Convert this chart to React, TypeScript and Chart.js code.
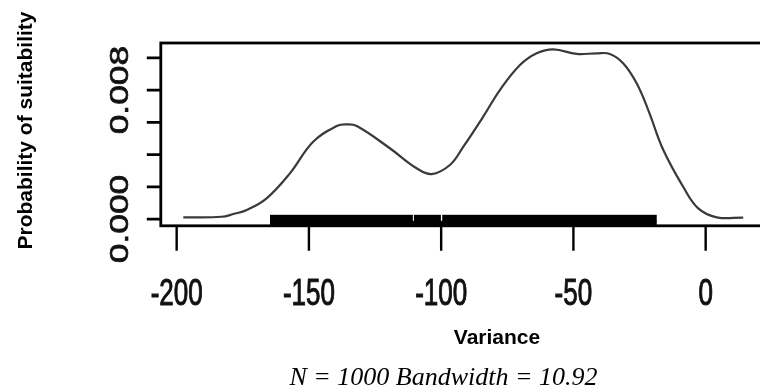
import React, { useEffect, useRef } from "react";
import { Chart, registerables } from "chart.js";

Chart.register(...registerables);

// Kernel density estimate of the variance (N = 1000, bw = 10.92)
const densityX = [
  -197.5, -183.0, -178.6, -173.5, -166.0, -157.2, -148.4, -139.5, -135.7, -131.9,
  -119.4, -109.3, -103.6, -96.7, -91.6, -84.1, -77.8, -70.2, -63.9, -57.6,
  -48.8, -41.2, -36.2, -31.2, -26.1, -21.7, -16.0, -8.5, -2.8, 4.2, 14.2,
];
const densityY = [
  0.000105, 0.00014, 0.00031, 0.00056, 0.00128, 0.00283, 0.0048, 0.00577, 0.00587, 0.00577,
  0.00439, 0.00315, 0.00279, 0.00335, 0.00449, 0.00635, 0.008, 0.00955, 0.01028, 0.01053,
  0.01024, 0.01028, 0.01024, 0.00966, 0.00842, 0.00676, 0.00428, 0.002, 0.00066, 0.000105, 0.00009,
];

// Axis ticks and labels
const xTickValues = [-200, -150, -100, -50, 0];
const xTickLabels = ["-200", "-150", "-100", "-50", "0"];
const yTickValues = [0, 0.002, 0.004, 0.006, 0.008, 0.01];
const yLabelValues = [0, 0.008];
const yLabelTexts = ["0.000", "0.008"];

// Rug of observations (runs of densely packed ticks)
const rugStart = [-164.7, -110.3, -99.6];
const rugEnd = [-110.7, -100.1, -18.5];

const xTitle = "Variance";
const yTitle = "Probability of suitability";
const subTitle = "N = 1000 Bandwidth = 10.92";

function heavyText(ctx: CanvasRenderingContext2D, text: string) {
  ctx.fillText(text, 0, 0);
  ctx.strokeText(text, 0, 0);
}

const framePlugin = {
  id: "rDensityFrame",
  afterDraw(chart: any) {
    const { ctx, chartArea: a, scales } = chart;
    const xs = scales.x;
    const ys = scales.y;
    ctx.save();

    // rug along the bottom edge
    ctx.fillStyle = "#000";
    const base = a.bottom;
    for (let i = 0; i < rugStart.length; i++) {
      const x0 = xs.getPixelForValue(rugStart[i]);
      const x1 = xs.getPixelForValue(rugEnd[i]);
      ctx.fillRect(x0, base - 11, x1 - x0, 7);
    }
    {
      const x0 = xs.getPixelForValue(rugStart[0]);
      const x1 = xs.getPixelForValue(rugEnd[rugEnd.length - 1]);
      ctx.fillRect(x0, base - 5, x1 - x0, 6);
    }

    // plot box
    ctx.strokeStyle = "#000";
    ctx.lineWidth = 2.8;
    ctx.strokeRect(a.left, a.top, a.right - a.left, a.bottom - a.top);

    // y ticks
    ctx.lineWidth = 2.8;
    ctx.beginPath();
    for (const v of yTickValues) {
      const py = ys.getPixelForValue(v);
      ctx.moveTo(a.left - 14, py);
      ctx.lineTo(a.left, py);
    }
    ctx.stroke();

    // x ticks
    ctx.lineWidth = 2.4;
    ctx.beginPath();
    for (const v of xTickValues) {
      const px = xs.getPixelForValue(v);
      ctx.moveTo(px, a.bottom);
      ctx.lineTo(px, a.bottom + 25);
    }
    ctx.stroke();

    // x tick labels (tall, narrow lettering)
    ctx.fillStyle = "#111";
    ctx.strokeStyle = "#111";
    ctx.lineWidth = 0.7;
    ctx.font = "26px 'Liberation Sans', Arial, sans-serif";
    ctx.textAlign = "center";
    ctx.textBaseline = "alphabetic";
    for (let i = 0; i < xTickValues.length; i++) {
      const px = xs.getPixelForValue(xTickValues[i]);
      ctx.save();
      ctx.translate(px, 305);
      ctx.scale(1, 1.42);
      heavyText(ctx, xTickLabels[i]);
      ctx.restore();
    }

    // y tick labels, parallel to the axis
    for (let i = 0; i < yLabelValues.length; i++) {
      const py = ys.getPixelForValue(yLabelValues[i]);
      ctx.save();
      ctx.translate(128, py);
      ctx.rotate(-Math.PI / 2);
      ctx.scale(1.36, 1);
      heavyText(ctx, yLabelTexts[i]);
      ctx.restore();
    }

    // axis titles
    ctx.fillStyle = "#000";
    ctx.font = "bold 21px 'Liberation Sans', Arial, sans-serif";
    ctx.fillText(xTitle, 497, 344);

    ctx.save();
    ctx.translate(32, 130.5);
    ctx.rotate(-Math.PI / 2);
    ctx.fillText(yTitle, 0, 0);
    ctx.restore();

    ctx.font = "italic 26px 'Liberation Serif', 'Times New Roman', serif";
    ctx.fillText(subTitle, 443.5, 384.5);

    ctx.restore();
  },
};

export default function App() {
  const canvasRef = useRef<HTMLCanvasElement | null>(null);

  useEffect(() => {
    const canvas = canvasRef.current;
    if (!canvas) return;
    const chart = new Chart(canvas, {
      type: "line",
      data: {
        datasets: [
          {
            data: densityX.map((x, i) => ({ x, y: densityY[i] })),
            borderColor: "#3a3a3a",
            borderWidth: 2.2,
            pointRadius: 0,
            tension: 0.4,
            fill: false,
          },
        ],
      },
      options: {
        responsive: false,
        animation: false,
        devicePixelRatio: 1,
        events: [],
        layout: { padding: { left: 160.8, right: 14.3, top: 43, bottom: 162.2 } },
        plugins: {
          legend: { display: false },
          tooltip: { enabled: false },
          title: { display: false },
        },
        scales: {
          x: { type: "linear", min: -206, max: 22.7, display: false },
          y: { type: "linear", min: -0.00042, max: 0.01092, display: false },
        },
      },
      plugins: [framePlugin],
    } as any);
    return () => chart.destroy();
  }, []);

  return (
    <div
      style={{
        position: "fixed",
        left: 0,
        top: 0,
        width: 760,
        height: 388,
        overflow: "hidden",
        background: "#fff",
      }}
    >
      <canvas ref={canvasRef} width={780} height={388} style={{ display: "block" }} />
    </div>
  );
}
